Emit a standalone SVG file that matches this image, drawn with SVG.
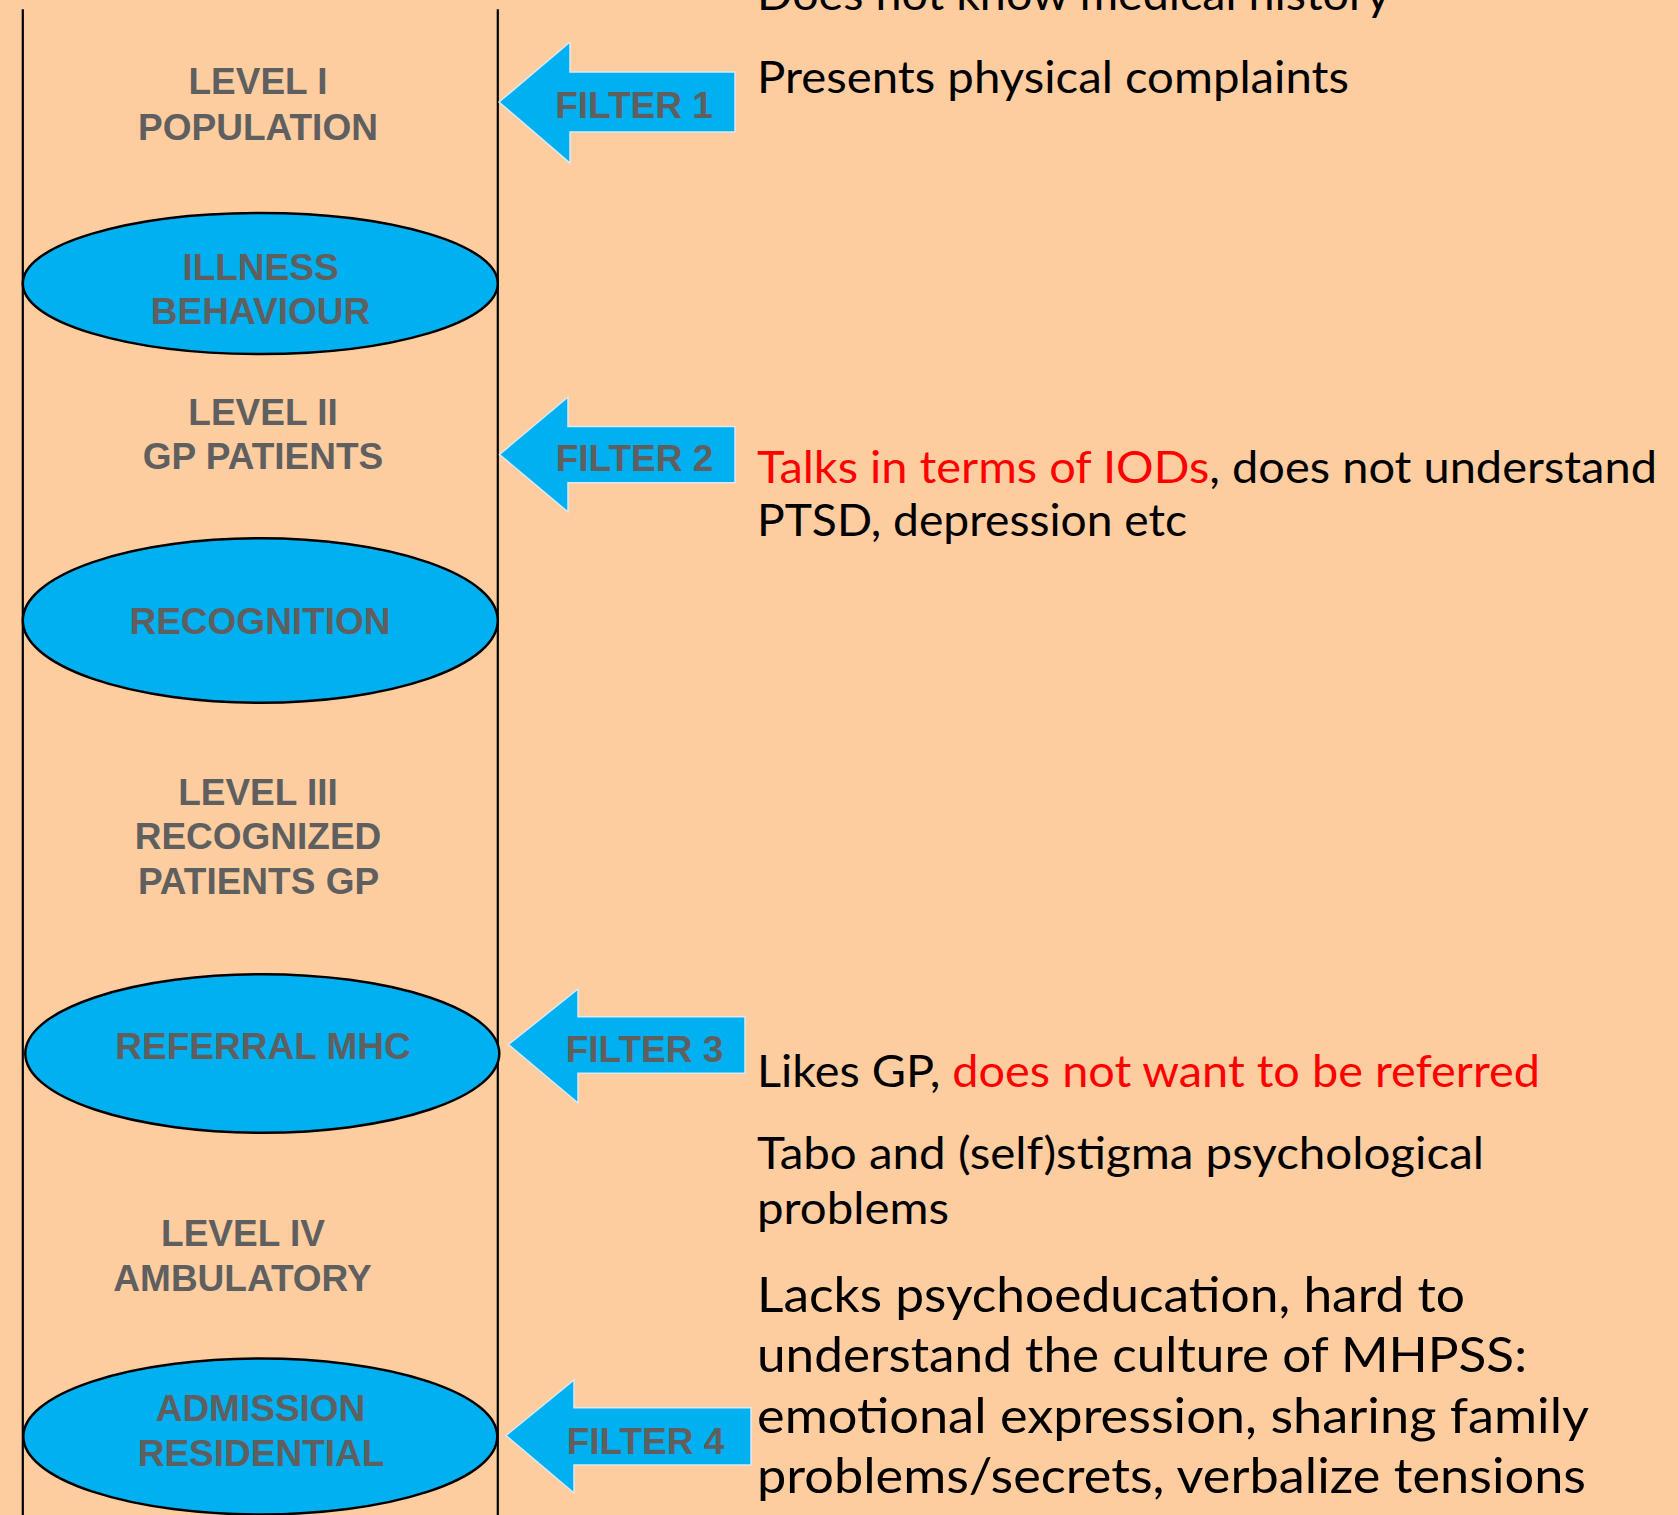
<svg xmlns="http://www.w3.org/2000/svg" width="1678" height="1515" viewBox="0 0 1678 1515">
  <style>
    .lvl { font-family: "Liberation Sans", Arial, sans-serif; font-weight: bold; font-size: 37px; fill: #5F5F5F; text-anchor: middle; }
    .flt { font-family: "Liberation Sans", Arial, sans-serif; font-weight: bold; font-size: 37px; fill: #5F5F5F; text-anchor: middle; }
    .oval { fill: #00B0F0; stroke: #000000; stroke-width: 2.5; }
    .arrow { fill: #00B0F0; stroke: #DCE8F3; stroke-width: 1.5; }
    .col { stroke: #000000; stroke-width: 2.2; fill: none; }
    .note { font-family: Lato, "Noto Sans", sans-serif; font-size: 44px; fill: #000000; }
    .note2 { font-family: Lato, "Noto Sans", sans-serif; font-size: 49px; fill: #000000; }
    .red { fill: #FF0000; }
  </style>
  <rect x="0" y="0" width="1678" height="1515" fill="#FDCDA0"/>

  <g id="columns">
    <line class="col" x1="22.8" y1="9.3" x2="22.8" y2="1515"/>
    <line class="col" x1="497.8" y1="9.3" x2="497.8" y2="1515"/>
  </g>

  <g id="level1">
    <text class="lvl" x="258" y="94.3">LEVEL I</text>
    <text class="lvl" x="258" y="139.5">POPULATION</text>
  </g>
  <g id="illness-behaviour">
    <ellipse class="oval" cx="260.3" cy="283.5" rx="237.5" ry="70.5"/>
    <text class="lvl" x="260.5" y="280">ILLNESS</text>
    <text class="lvl" x="260.5" y="324">BEHAVIOUR</text>
  </g>
  <g id="level2">
    <text class="lvl" x="263" y="425">LEVEL II</text>
    <text class="lvl" x="263" y="469.3">GP PATIENTS</text>
  </g>
  <g id="recognition">
    <ellipse class="oval" cx="260.3" cy="620.5" rx="237.5" ry="82.2"/>
    <text class="lvl" x="260" y="634">RECOGNITION</text>
  </g>
  <g id="level3">
    <text class="lvl" x="258" y="805">LEVEL III</text>
    <text class="lvl" x="258" y="849.3">RECOGNIZED</text>
    <text class="lvl" x="258.5" y="894.3">PATIENTS GP</text>
  </g>
  <g id="referral-mhc">
    <ellipse class="oval" cx="262.3" cy="1053.5" rx="237" ry="79.2"/>
    <text class="lvl" x="263" y="1059.3">REFERRAL MHC</text>
  </g>
  <g id="level4">
    <text class="lvl" x="243" y="1245.7">LEVEL IV</text>
    <text class="lvl" x="242.5" y="1291">AMBULATORY</text>
  </g>
  <g id="admission-residential">
    <ellipse class="oval" cx="260.3" cy="1436.5" rx="237" ry="78"/>
    <text class="lvl" x="260.5" y="1420.7">ADMISSION</text>
    <text class="lvl" x="261" y="1466">RESIDENTIAL</text>
  </g>

  <g id="filter1">
    <polygon class="arrow" points="499,102 570,42 570,72 735,72 735,132 570,132 570,163"/>
    <text class="flt" x="634" y="117.5">FILTER 1</text>
  </g>
  <g id="filter2">
    <polygon class="arrow" points="499.5,454.5 568,397 568,426.5 735,426.5 735,482.7 568,482.7 568,512"/>
    <text class="flt" x="634.5" y="471">FILTER 2</text>
  </g>
  <g id="filter3">
    <polygon class="arrow" points="508.5,1044.5 578,989 578,1016.7 745,1016.7 745,1073.3 578,1073.3 578,1103"/>
    <text class="flt" x="644.5" y="1062">FILTER 3</text>
  </g>
  <g id="filter4">
    <polygon class="arrow" points="506,1435.5 574,1380 574,1407.7 751,1407.7 751,1465 574,1465 574,1493"/>
    <text class="flt" x="645.5" y="1453.5">FILTER 4</text>
  </g>

  <g id="notes">
    <text class="note" x="757" y="9.5" textLength="633" lengthAdjust="spacingAndGlyphs">Does not know medical history</text>
    <text class="note" x="757" y="93" textLength="592" lengthAdjust="spacingAndGlyphs">Presents physical complaints</text>
    <text class="note" x="757" y="483" textLength="900" lengthAdjust="spacingAndGlyphs"><tspan class="red">Talks in terms of IODs</tspan>, does not understand</text>
    <text class="note" x="757" y="536" textLength="430" lengthAdjust="spacingAndGlyphs">PTSD, depression etc</text>
    <text class="note" x="757" y="1087" textLength="783" lengthAdjust="spacingAndGlyphs">Likes GP, <tspan class="red">does not want to be referred</tspan></text>
    <text class="note" x="757" y="1168.5" textLength="727" lengthAdjust="spacingAndGlyphs">Tabo and (self)stigma psychological</text>
    <text class="note" x="757" y="1224" textLength="192" lengthAdjust="spacingAndGlyphs">problems</text>
    <text class="note2" x="757" y="1312" textLength="708" lengthAdjust="spacingAndGlyphs">Lacks psychoeducation, hard to</text>
    <text class="note2" x="757" y="1372" textLength="770" lengthAdjust="spacingAndGlyphs">understand the culture of MHPSS:</text>
    <text class="note2" x="757" y="1432.5" textLength="832" lengthAdjust="spacingAndGlyphs">emotional expression, sharing family</text>
    <text class="note2" x="757" y="1492.5" textLength="829" lengthAdjust="spacingAndGlyphs">problems/secrets, verbalize tensions</text>
  </g>
</svg>
